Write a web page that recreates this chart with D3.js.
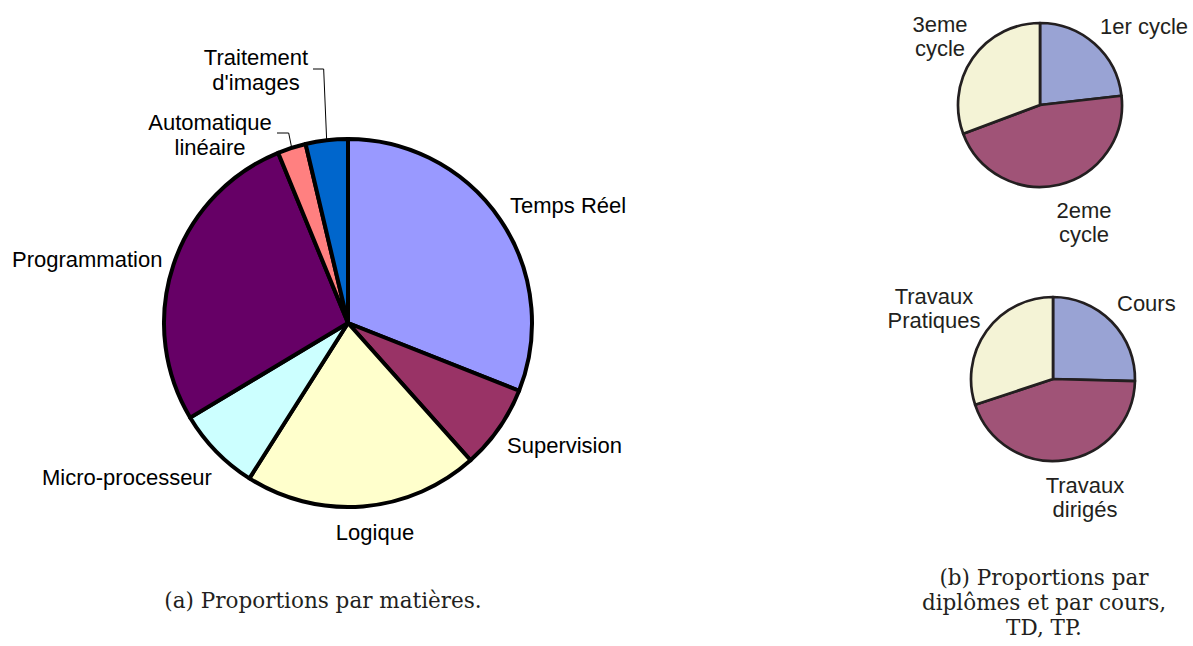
<!DOCTYPE html>
<html>
<head>
<meta charset="utf-8">
<script src="https://cdn.jsdelivr.net/npm/d3@7"></script>
<style>
  body { margin: 0; background: #fff; }
  text { font-family: "Liberation Sans", Arial, sans-serif; }
  .legende { font-family: "DejaVu Serif", serif; }
</style>
</head>
<body>
<svg id="chart" width="1193" height="646"></svg>
<script>
// --- donnees ---
const matieres = ["Temps Réel", "Supervision", "Logique", "Micro-processeur", "Programmation", "Automatique linéaire", "Traitement d'images"];
const partsMatieres = [31, 7.4, 20.6, 7.4, 27.4, 2.5, 3.7];
const couleursMatieres = ["#9999ff", "#993366", "#ffffcc", "#ccffff", "#660066", "#ff8080", "#0066cc"];

const diplomes = ["1er cycle", "2eme cycle", "3eme cycle"];
const partsDiplomes = [23.2, 46.1, 30.7];

const typesCours = ["Cours", "Travaux dirigés", "Travaux Pratiques"];
const partsCours = [25.4, 44.5, 30.1];

const couleursPetits = ["#99a3d4", "#a05377", "#f4f3d6"];

const legendeA = ["(a) Proportions par matières."];
const legendeB = ["(b) Proportions par", "diplômes et par cours,", "TD, TP."];

// --- mise en page ---
const svg = d3.select("#chart");

// position des etiquettes par rapport au centre de chaque camembert
const etiquettesMatieres = [
    {dx: 162, dy: -110, anchor: "start", lignes: ["Temps Réel"]},
    {dx: 159, dy: 130, anchor: "start", lignes: ["Supervision"]},
    {dx: 27, dy: 217, anchor: "middle", lignes: ["Logique"]},
    {dx: -306, dy: 162, anchor: "start", lignes: ["Micro-processeur"]},
    {dx: -336, dy: -56, anchor: "start", lignes: ["Programmation"]},
    {dx: -138, dy: -193, anchor: "middle", lignes: ["Automatique", "linéaire"], trait: [-71, -190]},
    {dx: -92, dy: -258, anchor: "middle", lignes: ["Traitement", "d'images"], trait: [-35, -254]}
];

const etiquettesDiplomes = [
    {dx: 60, dy: -71, anchor: "start", lignes: ["1er cycle"]},
    {dx: 44, dy: 113, anchor: "middle", lignes: ["2eme", "cycle"]},
    {dx: -100, dy: -73, anchor: "middle", lignes: ["3eme", "cycle"]}
];

const etiquettesCours = [
    {dx: 64, dy: -68, anchor: "start", lignes: ["Cours"]},
    {dx: 32, dy: 114, anchor: "middle", lignes: ["Travaux", "dirigés"]},
    {dx: -119, dy: -75, anchor: "middle", lignes: ["Travaux", "Pratiques"]}
];

function dessinerCamembert(cx, cy, rayon, valeurs, couleurs, epaisseur, trait) {
    const g = svg.append("g").attr("transform", `translate(${cx}, ${cy})`);
    const pie = d3.pie().sort(null).value((d) => d);
    const arc = d3.arc().innerRadius(0).outerRadius(rayon);
    const arcs = pie(valeurs);

    g.selectAll("path")
        .data(arcs)
        .join("path")
        .attr("d", arc)
        .attr("fill", (d, i) => couleurs[i])
        .attr("stroke", trait)
        .attr("stroke-width", epaisseur)
        .attr("stroke-linejoin", "round");

    return {g, arcs, rayon};
}

function etiqueter(cam, etiquettes, taille, interligne, couleur) {
    const {g, arcs, rayon} = cam;

    etiquettes.forEach((e, i) => {
        const t = g.append("text")
            .attr("x", e.dx)
            .attr("y", e.dy)
            .attr("text-anchor", e.anchor)
            .attr("font-size", taille)
            .attr("fill", couleur);
        e.lignes.forEach((l, k) => {
            t.append("tspan")
                .attr("x", e.dx)
                .attr("dy", k === 0 ? 0 : interligne)
                .text(l);
        });

        if (e.trait) {
            const a = (arcs[i].startAngle + arcs[i].endAngle) / 2;
            const fin = [Math.sin(a) * rayon, -Math.cos(a) * rayon];
            const coude = [fin[0] - 3, e.trait[1]];
            g.append("path")
                .attr("d", d3.line()([e.trait, coude, fin]))
                .attr("fill", "none")
                .attr("stroke", "#000")
                .attr("stroke-width", 1);
        }
    });
}

// (a) camembert des matieres
const camA = dessinerCamembert(348, 323, 184, partsMatieres, couleursMatieres, 4, "#000");
etiqueter(camA, etiquettesMatieres, 22, 25, "#000");

// (b) diplomes et cours
const camB1 = dessinerCamembert(1040, 105, 82, partsDiplomes, couleursPetits, 2.7, "#231f20");
etiqueter(camB1, etiquettesDiplomes, 22, 24, "#231f20");

const camB2 = dessinerCamembert(1053, 379, 82, partsCours, couleursPetits, 2.7, "#231f20");
etiqueter(camB2, etiquettesCours, 22, 24, "#231f20");

// legendes
svg.append("text")
    .attr("class", "legende")
    .attr("x", 323)
    .attr("y", 608)
    .attr("text-anchor", "middle")
    .attr("font-size", 21.5)
    .attr("fill", "#231f20")
    .text(legendeA[0]);

const tb = svg.append("text")
    .attr("class", "legende")
    .attr("x", 1044)
    .attr("y", 585)
    .attr("text-anchor", "middle")
    .attr("font-size", 21.5)
    .attr("fill", "#231f20");
legendeB.forEach((l, k) => {
    tb.append("tspan").attr("x", 1044).attr("dy", k === 0 ? 0 : 25).text(l);
});
</script>
</body>
</html>
